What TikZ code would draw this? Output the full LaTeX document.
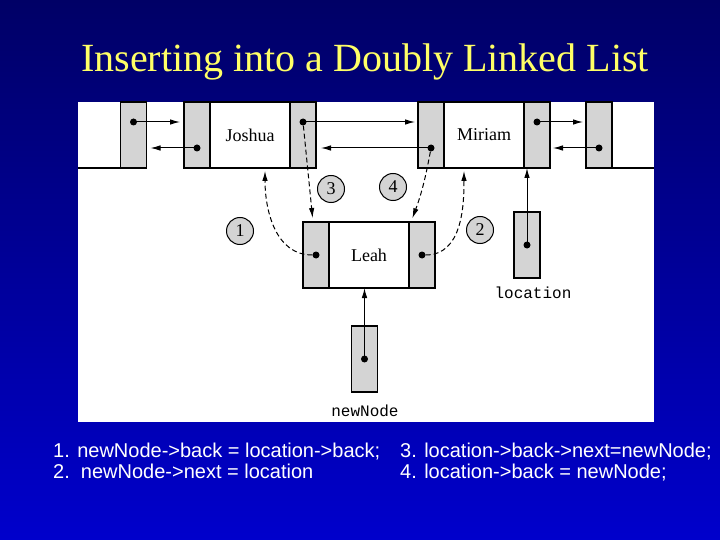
\documentclass[tikz,border=0pt]{standalone}
\usepackage{fontspec}
\setmainfont{Liberation Serif}
\setsansfont{Liberation Sans}
\setmonofont{Liberation Mono}
\usetikzlibrary{calc, positioning, arrows.meta}

\definecolor{slidetop}{RGB}{0,0,102}
\definecolor{slidebot}{RGB}{0,0,204}
\definecolor{titleyellow}{RGB}{255,255,102}
\definecolor{cellgray}{RGB}{212,212,212}

\begin{document}
\begin{tikzpicture}[x=1pt, y=-1pt,
  ptrcell/.style={draw, fill=cellgray, line width=1.2pt, minimum width=26pt, minimum height=66pt, inner sep=0pt, outer sep=0pt},
  datacell/.style={draw, fill=white, line width=1.2pt, minimum width=80pt, minimum height=66pt, inner sep=0pt, outer sep=0pt, font=\fontsize{18}{20}\selectfont},
  dot/.style={circle, fill=black, inner sep=0pt, minimum size=7pt},
  link/.style={-{Latex[length=10pt,width=5.5pt]}, line width=1pt},
  newlink/.style={link, dash pattern=on 5pt off 3pt},
  stepnum/.style={draw, circle, fill=cellgray, line width=1pt, minimum size=27pt, inner sep=0pt, font=\fontsize{18}{18}\selectfont},
  varname/.style={font=\ttfamily\fontsize{16}{16}\selectfont},
  codeline/.style={anchor=base west, text=white, inner sep=0pt, font=\sffamily\fontsize{20}{22}\selectfont}]

% Slide background and panel
\useasboundingbox (0,0) rectangle (720,540);
\shade[top color=slidetop, bottom color=slidebot] (0,0) rectangle (720,540);
\fill[white] (78,102) rectangle (654,422);

% Title
\node[anchor=base, text=titleyellow, font=\fontsize{40}{44}\selectfont] (title) at (365,72) {Inserting into a Doubly Linked List};

% Draw the list: left neighbour, Joshua, Miriam, right neighbour
\node[ptrcell] (l1) at (133.5,135) {};
\draw[line width=1.2pt] (78,168) -- (l1.south west);
\node[ptrcell] (jback) at (197,135) {};
\node[datacell, right=0pt of jback] (jdata) {Joshua};
\node[ptrcell, right=0pt of jdata] (jnext) {};
\node[ptrcell] (mback) at (431,135) {};
\node[datacell, right=0pt of mback] (mdata) {Miriam};
\node[ptrcell, right=0pt of mdata] (mnext) {};
\node[ptrcell] (r1) at (599,135) {};
\draw[line width=1.2pt] (r1.south east) -- (654,168);

% Draw the new node Leah
\node[ptrcell] (lback) at (316,255) {};
\node[datacell, right=0pt of lback] (ldata) {Leah};
\node[ptrcell, right=0pt of ldata] (lnext) {};

% Pointer variables
\node[ptrcell] (loc) at (527,245) {};
\node[varname] (loclabel) at (533,293) {location};
\node[ptrcell] (newptr) at (364.5,359) {};
\node[varname] (newlabel) at (365,411) {newNode};

% Dots
\node[dot] (l1n) at ($(l1.center)+(0,-13)$) {};
\node[dot] (jb) at ($(jback.center)+(0,13)$) {};
\node[dot] (jn) at ($(jnext.center)+(0,-13)$) {};
\node[dot] (mb) at ($(mback.center)+(0,13)$) {};
\node[dot] (mn) at ($(mnext.center)+(0,-13)$) {};
\node[dot] (rb) at ($(r1.center)+(0,13)$) {};
\node[dot] (lb) at (lback.center) {};
\node[dot] (ln) at (lnext.center) {};
\node[dot] (locdot) at (loc.center) {};
\node[dot] (newdot) at (newptr.center) {};

% Existing links
\draw[link, shorten >=4pt] (l1n.center) -- (l1n.center -| jback.west);
\draw[link, shorten >=4pt] (jb.center) -- (jb.center -| l1.east);
\draw[link, shorten >=3pt] (jn.center) -- (jn.center -| mback.west);
\draw[link, shorten >=5pt] (mb.center) -- (mb.center -| jnext.east);
\draw[link, shorten >=3pt] (mn.center) -- (mn.center -| r1.west);
\draw[link, shorten >=3pt] (rb.center) -- (rb.center -| mnext.east);
\draw[link] (locdot.center) -- (locdot.center |- mnext.south);
\draw[link] (newdot.center) -- (newdot.center |- ldata.south);

% New links (dashed)
\coordinate (jfoot) at ($(jdata.south west)+(55,3)$);
\coordinate (mfoot) at ($(mdata.south west)+(20,3)$);
\draw[newlink] (lb) to[out=180, in=-90] (jfoot);
\draw[newlink] (ln) to[out=0, in=-90] (mfoot);
\draw[newlink, shorten >=4pt] (jn) -- ($(lback.north)+(-3,0)$);
\draw[newlink, shorten >=4pt] (mb) to[bend left=5] ($(lnext.north west)+(2,0)$);

% Step numbers
\node[stepnum] (s1) at (240,231) {1};
\node[stepnum] (s2) at (480,230) {2};
\node[stepnum] (s3) at (331,189) {3};
\node[stepnum] (s4) at (393,187) {4};

% Code lines
\node[codeline] (code1) at (53,457) {1. newNode->back = location->back;};
\node[codeline] (code3) at (400,457) {3. location->back->next=newNode;};
\node[codeline] (code2) at (53,478) {2.\ \ newNode->next = location};
\node[codeline] (code4) at (400,478) {4. location->back = newNode;};
\end{tikzpicture}
\end{document}
